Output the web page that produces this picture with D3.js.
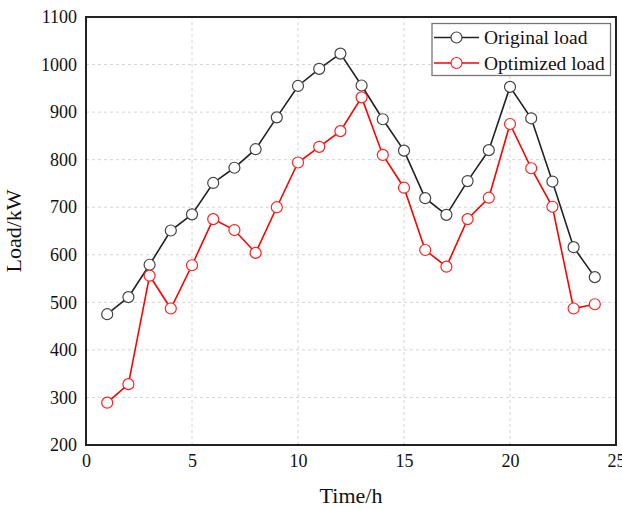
<!DOCTYPE html>
<html>
<head>
<meta charset="utf-8">
<script src="https://cdn.jsdelivr.net/npm/d3@7"></script>
<style>
  body { margin: 0; background: #fff; }
  svg { display: block; font-family: "Liberation Serif", "Times New Roman", serif; }
</style>
</head>
<body>
<div id="chart"></div>
<script>
// heures
const hours = [1, 2, 3, 4, 5, 6, 7, 8, 9, 10, 11, 12, 13, 14, 15, 16, 17, 18, 19, 20, 21, 22, 23, 24];
// charge originale
const originalLoad = [475, 511, 579, 651, 685, 751, 783, 822, 889, 955, 991, 1023, 956, 885, 819, 719, 684, 755, 820, 953, 887, 754, 616, 553];
// charge optimisee
const optimizedLoad = [289, 328, 556, 487, 578, 675, 652, 604, 700, 794, 827, 860, 931, 810, 741, 610, 575, 675, 720, 875, 782, 701, 487, 496];
const xTicks = [0, 5, 10, 15, 20, 25];
const yTicks = [200, 300, 400, 500, 600, 700, 800, 900, 1000, 1100];
const seriesNames = ["Original load", "Optimized load"];
const seriesColors = ["#222", "#ff0000"];

// dimensions
var width = 622, height = 509;
var margin = { top: 17, right: 6, bottom: 64, left: 86 };

var svg = d3.select("#chart").append("svg")
  .attr("width", width)
  .attr("height", height);

var x = d3.scaleLinear().domain([0, 25]).range([margin.left, width - margin.right]);
var y = d3.scaleLinear().domain([200, 1100]).range([height - margin.bottom, margin.top]);

// grille pointillee
svg.append("g")
  .selectAll("line")
  .data(yTicks.slice(1, -1))
  .enter().append("line")
  .attr("x1", x(0)).attr("x2", x(25))
  .attr("y1", d => y(d)).attr("y2", d => y(d))
  .attr("stroke", "#d4d4d4").attr("stroke-dasharray", "3,3");

svg.append("g")
  .selectAll("line")
  .data(xTicks.slice(1, -1))
  .enter().append("line")
  .attr("y1", y(200)).attr("y2", y(1100))
  .attr("x1", d => x(d)).attr("x2", d => x(d))
  .attr("stroke", "#d4d4d4").attr("stroke-dasharray", "3,3");

// axes sans graduations
var xAxis = svg.append("g")
  .attr("transform", "translate(0," + y(200) + ")")
  .call(d3.axisBottom(x).tickValues(xTicks).tickFormat(d3.format("d")).tickSize(0).tickPadding(9));
var yAxis = svg.append("g")
  .attr("transform", "translate(" + x(0) + ",0)")
  .call(d3.axisLeft(y).tickValues(yTicks).tickFormat(d3.format("d")).tickSize(0).tickPadding(9));

[xAxis, yAxis].forEach(function (a) {
  a.select(".domain").remove();
  a.selectAll("text")
    .attr("font-family", "Liberation Serif, serif")
    .attr("font-size", 18)
    .attr("fill", "#111");
});

// cadre
svg.append("rect")
  .attr("x", x(0)).attr("y", y(1100))
  .attr("width", x(25) - x(0)).attr("height", y(200) - y(1100))
  .attr("fill", "none").attr("stroke", "#222").attr("stroke-width", 2);

// courbes
var series = [originalLoad, optimizedLoad];
var line = d3.line()
  .x((d, i) => x(hours[i]))
  .y(d => y(d));

series.forEach(function (values, k) {
  svg.append("path")
    .datum(values)
    .attr("d", line)
    .attr("fill", "none")
    .attr("stroke", seriesColors[k])
    .attr("stroke-width", 1.6);

  svg.append("g")
    .selectAll("circle")
    .data(values)
    .enter().append("circle")
    .attr("cx", (d, i) => x(hours[i]))
    .attr("cy", d => y(d))
    .attr("r", 5.5)
    .attr("fill", "#fff")
    .attr("stroke", k == 0 ? "#444" : "#ff2020")
    .attr("stroke-width", 1.2);
});

// legende
var legend = svg.append("g");
legend.append("rect")
  .attr("x", 432).attr("y", 23.5)
  .attr("width", 178.5).attr("height", 52)
  .attr("fill", "#fff").attr("stroke", "#777").attr("stroke-width", 1.3);

seriesNames.forEach(function (name, k) {
  var ly = 37.5 + k * 25.5;
  legend.append("line")
    .attr("x1", 434).attr("x2", 479)
    .attr("y1", ly).attr("y2", ly)
    .attr("stroke", seriesColors[k]).attr("stroke-width", 1.6);
  legend.append("circle")
    .attr("cx", 456.5).attr("cy", ly).attr("r", 5.5)
    .attr("fill", "#fff")
    .attr("stroke", k == 0 ? "#444" : "#ff2020")
    .attr("stroke-width", 1.2);
  legend.append("text")
    .attr("x", 484).attr("y", ly + 6.5)
    .attr("font-size", 19.5)
    .attr("fill", "#111")
    .text(name);
});

// titres des axes
svg.append("text")
  .attr("x", (x(0) + x(25)) / 2).attr("y", 503)
  .attr("text-anchor", "middle")
  .attr("font-size", 22)
  .attr("fill", "#111")
  .text("Time/h");

svg.append("text")
  .attr("transform", "translate(21," + (y(650)) + ") rotate(-90)")
  .attr("text-anchor", "middle")
  .attr("font-size", 22)
  .attr("fill", "#111")
  .text("Load/kW");
</script>
</body>
</html>
